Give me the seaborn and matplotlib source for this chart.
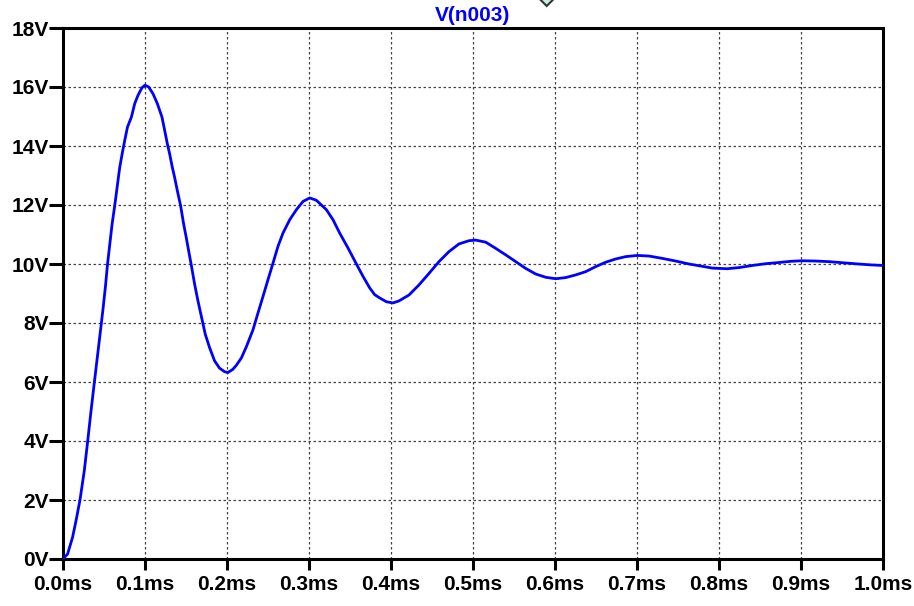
import matplotlib
matplotlib.use("Agg")
import matplotlib.pyplot as plt
from matplotlib.patches import Polygon
import seaborn as sns
import pandas as pd

# ---- data (time in ms, voltage in V) ----
time_ms = [0.0, 0.0056, 0.0117, 0.0159, 0.0207, 0.026, 0.030, 0.0341, 0.0382,
           0.0449, 0.0489, 0.0518, 0.0542, 0.0571, 0.0599, 0.0631, 0.0660,
           0.0692, 0.0725, 0.0753, 0.0786, 0.0834, 0.0875, 0.0915, 0.0964,
           0.1000, 0.1045, 0.1098, 0.1150, 0.1207, 0.1240, 0.1272, 0.1300,
           0.1333, 0.1361, 0.1394, 0.1434, 0.1471, 0.1503, 0.1532, 0.1564,
           0.1605, 0.1645, 0.1686, 0.1735, 0.1787, 0.1848, 0.1909, 0.1970,
           0.2010, 0.2071, 0.2115, 0.2176, 0.2237, 0.2317, 0.2378, 0.2439,
           0.2500, 0.2561, 0.2622, 0.2683, 0.2765, 0.2846, 0.2927, 0.3009,
           0.3090, 0.3212, 0.3293, 0.3374, 0.3476, 0.3578, 0.3659, 0.3740,
           0.3801, 0.3862, 0.3944, 0.4024, 0.4098, 0.4220, 0.4341, 0.4463,
           0.4585, 0.4707, 0.4829, 0.4951, 0.5033, 0.5155, 0.5277, 0.5399,
           0.5521, 0.5643, 0.5765, 0.5887, 0.6009, 0.6131, 0.6252, 0.6374,
           0.6496, 0.6618, 0.6740, 0.6862, 0.7004, 0.7146, 0.7309, 0.7472,
           0.7634, 0.780, 0.792, 0.810, 0.825, 0.8405, 0.857, 0.873, 0.887,
           0.901, 0.918, 0.934, 0.952, 0.970, 0.985, 1.0]
volts = [0.0, 0.17, 0.74, 1.30, 2.0, 3.0, 3.97, 5.0, 5.98,
         7.55, 8.50, 9.25, 9.97, 10.68, 11.36, 11.98, 12.60,
         13.28, 13.79, 14.19, 14.64, 14.98, 15.44, 15.72, 15.98,
         16.06, 16.00, 15.77, 15.44, 14.98, 14.53, 14.08, 13.74,
         13.28, 12.94, 12.49, 11.98, 11.36, 10.90, 10.45, 9.97,
         9.32, 8.76, 8.24, 7.62, 7.17, 6.72, 6.47, 6.35,
         6.32, 6.43, 6.57, 6.82, 7.20, 7.77, 8.34, 8.90,
         9.47, 10.03, 10.60, 11.05, 11.50, 11.84, 12.12, 12.24,
         12.16, 11.84, 11.50, 11.05, 10.54, 10.00, 9.58, 9.19,
         8.96, 8.85, 8.72, 8.68, 8.75, 8.95, 9.29, 9.68,
         10.08, 10.42, 10.68, 10.79, 10.81, 10.74, 10.53, 10.31,
         10.08, 9.85, 9.66, 9.55, 9.50, 9.54, 9.63, 9.74,
         9.91, 10.06, 10.17, 10.25, 10.29, 10.27, 10.19, 10.10,
         10.00, 9.92, 9.86, 9.84, 9.88, 9.95, 10.01, 10.05, 10.09,
         10.11, 10.10, 10.08, 10.04, 10.00, 9.97, 9.95]

x_ticks = [0.0, 0.1, 0.2, 0.3, 0.4, 0.5, 0.6, 0.7, 0.8, 0.9, 1.0]
x_tick_labels = ["0.0ms", "0.1ms", "0.2ms", "0.3ms", "0.4ms", "0.5ms",
                 "0.6ms", "0.7ms", "0.8ms", "0.9ms", "1.0ms"]
y_ticks = [0, 2, 4, 6, 8, 10, 12, 14, 16, 18]
y_tick_labels = ["0V", "2V", "4V", "6V", "8V", "10V", "12V", "14V", "16V", "18V"]
trace_name = "V(n003)"

sns.set_style("white")
plt.rcParams["font.family"] = ["Liberation Sans", "DejaVu Sans"]

df = pd.DataFrame({"t": time_ms, "v": volts})

fig = plt.figure(figsize=(9.14, 6.06), dpi=100)
ax = fig.add_axes([63 / 914, 1 - 559 / 606, 820 / 914, 531 / 606])

sns.lineplot(data=df, x="t", y="v", ax=ax, color="#0000ff", linewidth=2.0,
             sort=False, zorder=3)

ax.set_xlim(0, 1.0)
ax.set_ylim(0, 18)
ax.set_xticks(x_ticks)
ax.set_xticklabels(x_tick_labels, fontsize=15, fontweight="bold")
ax.set_yticks(y_ticks)
ax.set_yticklabels(y_tick_labels, fontsize=15, fontweight="bold")
ax.set_xlabel("")
ax.set_ylabel("")

ax.grid(True, color="#444444", linestyle=(0, (2, 2)), linewidth=0.9)
for s in ax.spines.values():
    s.set_visible(True)
    s.set_color("black")
    s.set_linewidth(2.2)

ax.tick_params(axis="y", direction="out", length=10, width=2.2, pad=0,
               colors="black", left=True)
ax.tick_params(axis="x", direction="out", length=7.7, width=2.2, pad=4,
               colors="black", bottom=True)

ax.set_title(trace_name, color="#0000ff", fontsize=15, fontweight="bold", pad=5)

# small cursor diamond at the top edge (mostly cut off)
cx, cy, r = 546.7 / 914, 1 + 4 / 606, 10 / 606
rx = 10 / 914
diamond = Polygon([(cx, cy + r), (cx + rx, cy), (cx, cy - r), (cx - rx, cy)],
                  closed=True, transform=fig.transFigure, facecolor="#c8ece6",
                  edgecolor="#333333", linewidth=1.5, clip_on=False)
fig.add_artist(diamond)

fig.savefig("out.png", dpi=100)
